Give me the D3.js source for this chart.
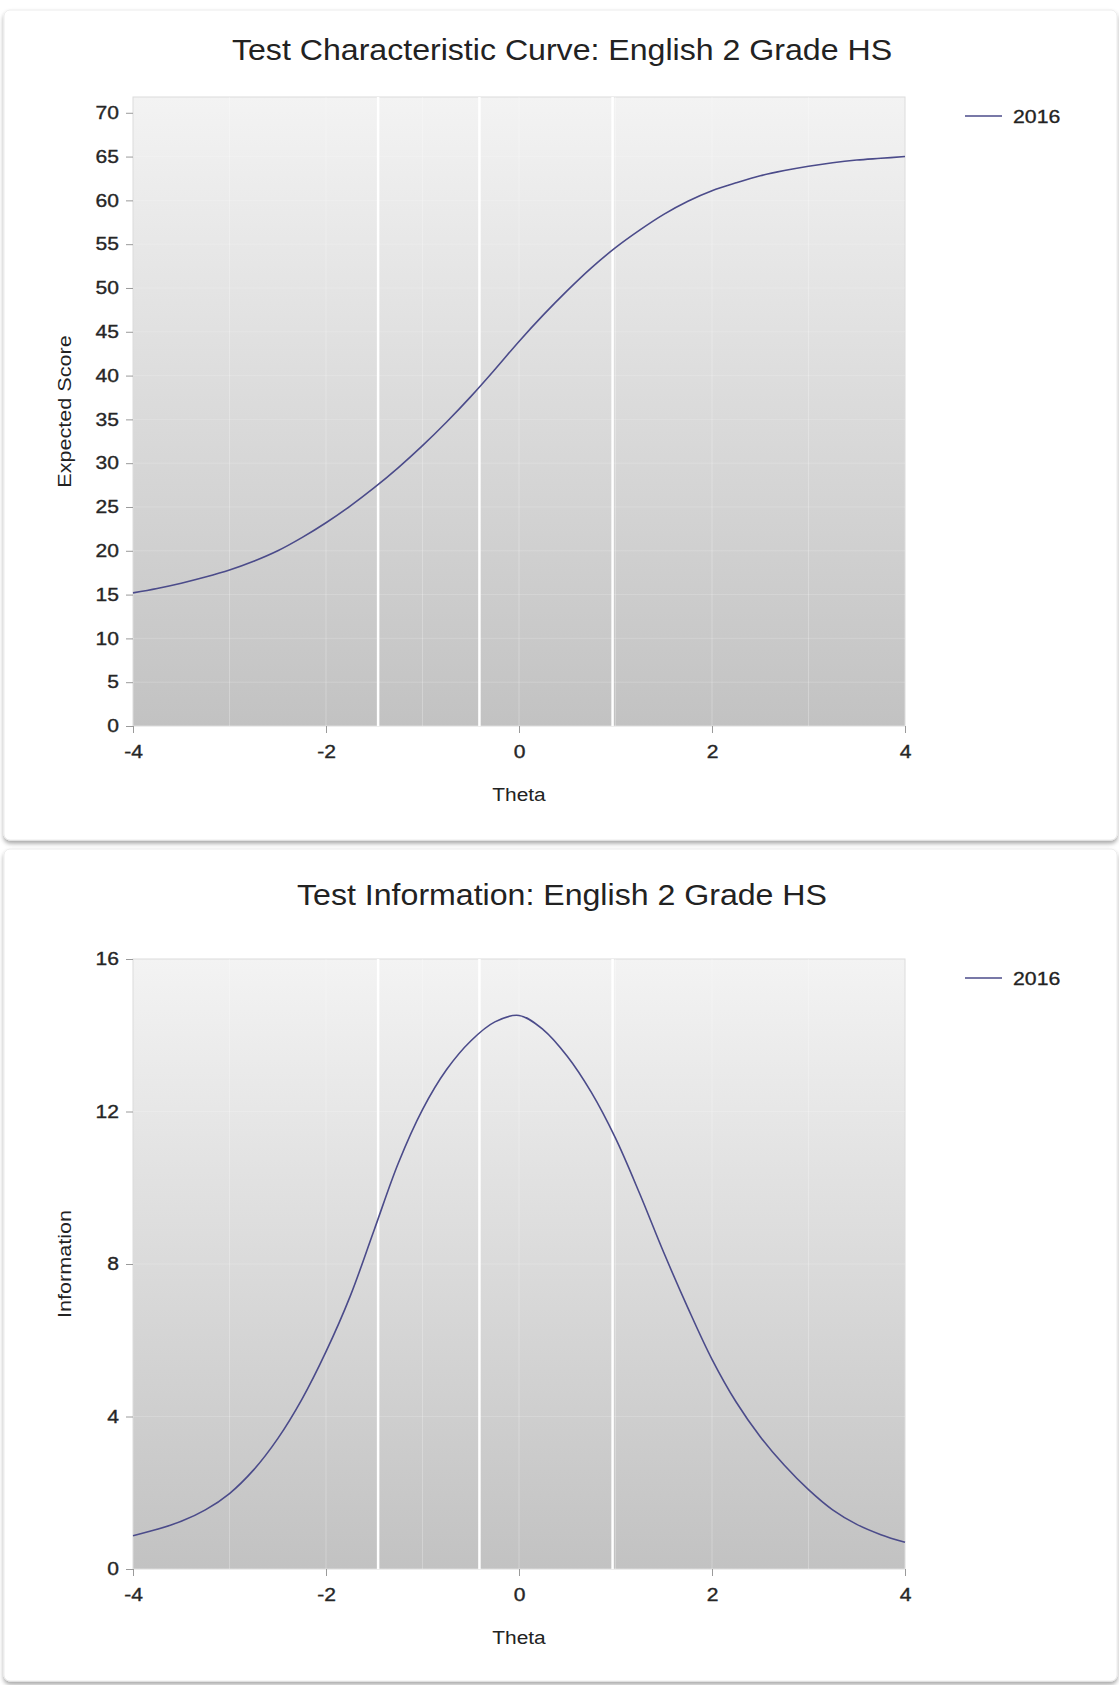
<!DOCTYPE html>
<html>
<head>
  <meta charset="utf-8">
  <title>Test Characteristic Curve / Test Information</title>
  <script src="https://d3js.org/d3.v7.min.js"></script>
  <style>
    body { margin: 0; background: #fff; }
    svg text { font-family: "Liberation Sans", Arial, sans-serif; }
  </style>
</head>
<body>
<div id="chart"></div>

<script>
  // theta points
  const theta = [-4, -3.75, -3.5, -3.25, -3, -2.75, -2.5, -2.25, -2, -1.75, -1.5, -1.25, -1, -0.75, -0.5, -0.25,
                 0, 0.25, 0.5, 0.75, 1, 1.25, 1.5, 1.75, 2, 2.25, 2.5, 2.75, 3, 3.25, 3.5, 3.75, 4];

  const expectedScore = [15.2, 15.7, 16.3, 17.0, 17.8, 18.8, 20.0, 21.5, 23.2, 25.1, 27.2, 29.5, 32.0, 34.7, 37.6, 40.7,
                         43.9, 46.9, 49.7, 52.3, 54.6, 56.6, 58.4, 59.9, 61.1, 62.0, 62.8, 63.4, 63.9, 64.3, 64.6, 64.8, 65.0];

  const information = [0.87, 1.04, 1.25, 1.55, 1.98, 2.6, 3.42, 4.45, 5.7, 7.15, 8.9, 10.65, 12.05, 13.1, 13.85, 14.35,
                       14.52, 14.15, 13.45, 12.5, 11.3, 9.85, 8.3, 6.85, 5.5, 4.38, 3.47, 2.72, 2.08, 1.55, 1.17, 0.9, 0.7];

  // cut scores (white vertical lines)
  const cutScores = [-1.46, -0.41, 0.97];

  const xTicks = [-4, -2, 0, 2, 4];
  const gridTheta = [-3, -2, -1, 0, 1, 2, 3];
  const scoreTicks = [0, 5, 10, 15, 20, 25, 30, 35, 40, 45, 50, 55, 60, 65, 70];
  const infoTicks = [0, 4, 8, 12, 16];
  const seriesName = '2016';

  const W = 1119, H = 1685;
  const plotLeft = 133, plotRight = 905;
  const lineColor = '#4b4b8a';

  // the original font runs wider than Liberation Sans, so widen the glyphs a bit
  function stretch(sel, k) {
    sel.each(function() {
      let n = this.getComputedTextLength();
      d3.select(this)
        .attr('textLength', n * k)
        .attr('lengthAdjust', 'spacingAndGlyphs');
    });
  }

  let svg = d3.select('#chart')
    .append('svg')
      .attr('width', W)
      .attr('height', H);

  let defs = svg.append('defs');
  let grad = defs.append('linearGradient')
      .attr('id', 'bg')
      .attr('x1', 0).attr('y1', 0).attr('x2', 0).attr('y2', 1);
  grad.append('stop').attr('offset', '0%').attr('stop-color', '#f3f3f3');
  grad.append('stop').attr('offset', '100%').attr('stop-color', '#c2c2c2');

  defs.append('filter')
      .attr('id', 'shadow')
      .attr('x', '-5%').attr('y', '-5%').attr('width', '110%').attr('height', '110%')
    .append('feDropShadow')
      .attr('dx', 0).attr('dy', 3)
      .attr('stdDeviation', 2)
      .attr('flood-color', '#000')
      .attr('flood-opacity', 0.35);

  const panels = [
    {
      title: 'Test Characteristic Curve: English 2 Grade HS',
      yLabel: 'Expected Score',
      values: expectedScore,
      yMax: 71.8,
      ticks: scoreTicks,
      card: [10, 840],
      top: 97, bottom: 726,
      titleY: 60
    },
    {
      title: 'Test Information: English 2 Grade HS',
      yLabel: 'Information',
      values: information,
      yMax: 16,
      ticks: infoTicks,
      card: [849, 1681],
      top: 959, bottom: 1569,
      titleY: 905
    }
  ];

  panels.forEach(p => {
    // card
    svg.append('rect')
       .attr('x', 4).attr('y', p.card[0])
       .attr('width', 1113).attr('height', p.card[1] - p.card[0])
       .attr('rx', 6)
       .attr('fill', '#fff')
       .attr('stroke', '#ececec')
       .attr('filter', 'url(#shadow)');

    let xScale = d3.scaleLinear().domain([-4, 4]).range([plotLeft, plotRight]);
    let yScale = d3.scaleLinear().domain([0, p.yMax]).range([p.bottom, p.top]);

    // plot background
    svg.append('rect')
       .attr('x', plotLeft).attr('y', p.top)
       .attr('width', plotRight - plotLeft).attr('height', p.bottom - p.top)
       .attr('fill', 'url(#bg)')
       .attr('stroke', '#dcdcdc');

    // faint grid
    svg.append('g').selectAll('line')
       .data(gridTheta)
       .join('line')
       .attr('x1', d => xScale(d)).attr('x2', d => xScale(d))
       .attr('y1', p.top).attr('y2', p.bottom)
       .attr('stroke', '#fff').attr('stroke-opacity', 0.25);
    svg.append('g').selectAll('line')
       .data(p.ticks.slice(1, -1))
       .join('line')
       .attr('x1', plotLeft).attr('x2', plotRight)
       .attr('y1', d => yScale(d)).attr('y2', d => yScale(d))
       .attr('stroke', '#fff').attr('stroke-opacity', 0.18);

    // cut score lines
    svg.append('g').selectAll('line')
       .data(cutScores)
       .join('line')
       .attr('x1', d => xScale(d)).attr('x2', d => xScale(d))
       .attr('y1', p.top).attr('y2', p.bottom)
       .attr('stroke', '#fff').attr('stroke-width', 2.5);

    // curve
    let line = d3.line()
      .x((d, i) => xScale(theta[i]))
      .y(d => yScale(d))
      .curve(d3.curveCatmullRom.alpha(0.5));
    svg.append('path')
       .datum(p.values)
       .attr('d', line)
       .attr('fill', 'none')
       .attr('stroke', lineColor)
       .attr('stroke-width', 1.6);

    // axes
    let xAxis = d3.axisBottom(xScale)
      .tickValues(xTicks)
      .tickSize(7)
      .tickPadding(12)
      .tickFormat(d => String(d));
    let gx = svg.append('g')
       .attr('transform', `translate(0,${p.bottom})`)
       .call(xAxis);

    let yAxis = d3.axisLeft(yScale)
      .tickValues(p.ticks)
      .tickSize(7)
      .tickPadding(7)
      .tickFormat(d => String(d));
    let gy = svg.append('g')
       .attr('transform', `translate(${plotLeft},0)`)
       .call(yAxis);

    [gx, gy].forEach(g => {
      g.select('.domain').remove();
      g.selectAll('.tick line').attr('stroke', '#9a9a9a');
      g.selectAll('.tick text')
       .attr('fill', '#262626')
       .attr('stroke', '#262626')
       .attr('stroke-width', 0.35)
       .attr('font-size', '18px')
       .attr('font-family', '"Liberation Sans", Arial, sans-serif')
       .call(stretch, 1.17);
    });

    // titles and labels
    svg.append('text')
       .attr('x', 562).attr('y', p.titleY)
       .style('text-anchor', 'middle')
       .attr('font-size', '30px')
       .attr('fill', '#222')
       .text(p.title)
       .call(stretch, 1.07);

    svg.append('text')
       .attr('x', (plotLeft + plotRight) / 2).attr('y', p.bottom + 75)
       .style('text-anchor', 'middle')
       .attr('font-size', '18px')
       .attr('fill', '#222')
       .text('Theta')
       .call(stretch, 1.16);

    svg.append('text')
       .attr('transform', `translate(71,${(p.top + p.bottom) / 2}) rotate(-90)`)
       .style('text-anchor', 'middle')
       .attr('font-size', '18px')
       .attr('fill', '#222')
       .text(p.yLabel)
       .call(stretch, 1.2);

    // legend
    let ly = p.top + 19;
    svg.append('line')
       .attr('x1', 965).attr('x2', 1002)
       .attr('y1', ly).attr('y2', ly)
       .attr('stroke', lineColor).attr('stroke-width', 1.6);
    svg.append('text')
       .attr('x', 1013).attr('y', ly + 6.5)
       .attr('font-size', '18px')
       .attr('fill', '#222')
       .attr('stroke', '#222')
       .attr('stroke-width', 0.3)
       .text(seriesName)
       .call(stretch, 1.18);
  });
</script>
</body>
</html>
